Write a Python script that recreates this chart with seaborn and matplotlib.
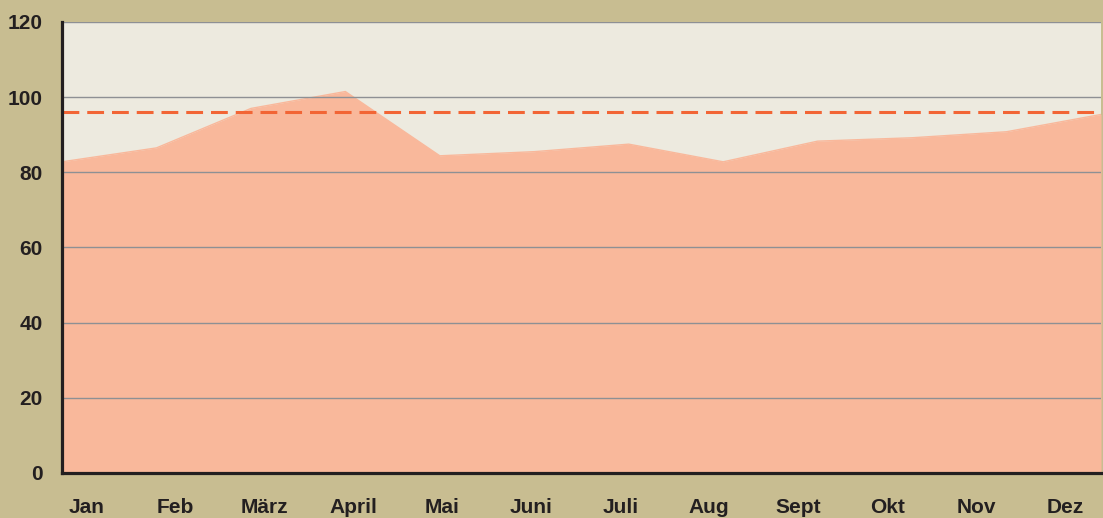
import numpy as np
import pandas as pd
import matplotlib
matplotlib.use("Agg")
import matplotlib.pyplot as plt
import seaborn as sns

# monthly values
months = ["Jan", "Feb", "März", "April", "Mai", "Juni",
          "Juli", "Aug", "Sept", "Okt", "Nov", "Dez"]
values = [82.8, 86.5, 97.0, 101.5, 84.4, 85.5, 87.5, 82.8, 88.3, 89.2, 90.8, 95.4]
target = 96
y_ticks = [0, 20, 40, 60, 80, 100, 120]

data = pd.DataFrame({"idx": np.arange(len(months)), "value": values})

sns.set_theme(style="white")
plt.rcParams["font.family"] = ["Liberation Sans", "DejaVu Sans"]

bg = "#c8bd91"
plot_bg = "#edeadf"
fill_col = "#f9b89b"
dash_col = "#f26535"

fig = plt.figure(figsize=(11.03, 5.18), dpi=100, facecolor=bg)
ax = fig.add_axes([62 / 1103, 45 / 518, 1039 / 1103, 451 / 518])
ax.set_facecolor(plot_bg)

# area
ax.fill_between(data["idx"], 0, data["value"], color=fill_col, linewidth=0, zorder=1)
sns.lineplot(data=data, x="idx", y="value", color=fill_col, linewidth=1, ax=ax, zorder=1)

# target line
ax.axhline(target, color=dash_col, linewidth=2.2, dashes=(5.5, 2.6), zorder=3)

ax.set_xlim(0, len(months) - 1)
ax.set_ylim(0, 120)
ax.set_yticks(y_ticks)
ax.set_yticklabels([str(t) for t in y_ticks])
ax.set_xticks(np.linspace(0.26, 10.62, len(months)))
ax.set_xticklabels(months)

ax.set_axisbelow("line")
ax.yaxis.grid(True, color="#8e9094", linewidth=1)
ax.xaxis.grid(False)

for lbl in ax.get_xticklabels() + ax.get_yticklabels():
    lbl.set_fontweight("bold")
    lbl.set_fontsize(15)
    lbl.set_color("#231f20")
ax.tick_params(axis="y", length=0, pad=14)
ax.tick_params(axis="x", length=0, pad=18)

for side in ["top", "right"]:
    ax.spines[side].set_visible(False)
for side in ["left", "bottom"]:
    ax.spines[side].set_color("#231f20")
    ax.spines[side].set_linewidth(2.3)
    ax.spines[side].set_zorder(4)

ax.set_xlabel("")
ax.set_ylabel("")

fig.savefig("out.png", dpi=100, facecolor=bg)
